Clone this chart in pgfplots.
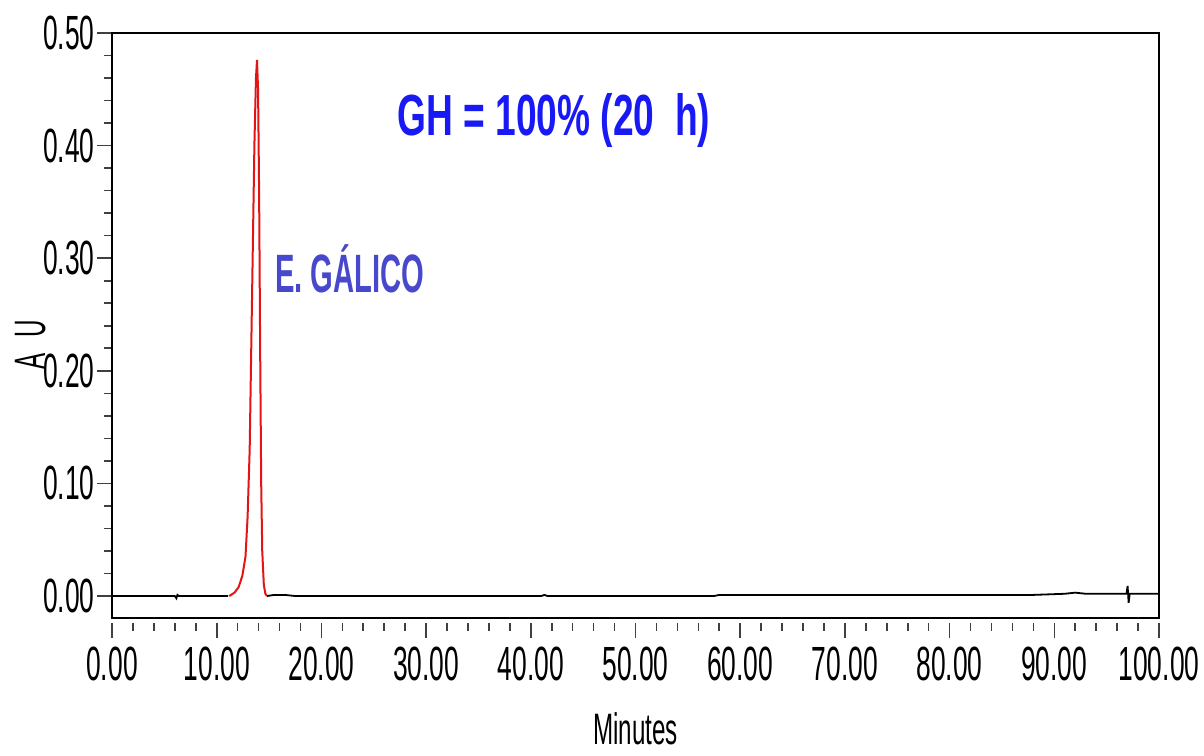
\documentclass[border=0pt]{standalone}
\usepackage{fontspec}
\setmainfont{Liberation Sans}
\newfontfamily\narrowfont{Liberation Sans}[FakeStretch=0.55]
\newfontfamily\annfont{Liberation Sans}[FakeStretch=0.64]
\newfontfamily\galfont{Liberation Sans}[FakeStretch=0.54]
\usepackage{pgfplots}
\pgfplotsset{compat=1.18}
\usetikzlibrary{calc}
\definecolor{peakred}{RGB}{228,20,20}
\definecolor{ghblue}{RGB}{25,25,245}
\definecolor{galblue}{RGB}{72,72,205}

\begin{document}
\begin{tikzpicture}
\begin{axis}[name=ax, scale only axis, width=523.5pt, height=292.5pt,
  xmin=0, xmax=100, ymin=-0.0195, ymax=0.5,
  xtick={0,10,...,100}, ytick={0,0.1,0.2,0.3,0.4,0.5},
  minor x tick num=4, minor y tick num=4,
  xtick pos=bottom, ytick pos=left,
  tick align=outside, major tick length=7.5pt, minor tick length=4pt,
  xtick style={yshift=-2.5pt},
  every tick/.style={black!75, line width=0.8pt},
  axis line style={line width=1pt},
  /pgf/number format/fixed, /pgf/number format/fixed zerofill,
  /pgf/number format/precision=2, /pgf/number format/assume math mode=true,
  ticklabel style={font=\narrowfont\fontsize{24}{24}\selectfont, inner sep=1pt},
  xticklabel style={yshift=-6pt},
  xlabel={Minutes}, ylabel={A\hspace{0.35em}U},
  label style={font=\narrowfont\fontsize{22}{22}\selectfont},
  xlabel style={at={(axis description cs:0.5,-0.19)}, anchor=center, inner sep=0pt},
  ylabel style={at={(axis description cs:-0.078,0.467)}, anchor=center},
  clip=false]
\addplot[black, line width=0.9pt] coordinates {
  (0,0) (6.0,0) (6.15,-0.002) (6.25,0.001) (6.4,0) (11.1,0)};
\addplot[peakred, line width=1pt] coordinates {
  (11.2,0.000) (11.7,0.003) (12.1,0.008) (12.45,0.018) (12.75,0.035)
  (12.95,0.07) (13.15,0.13) (13.3,0.22) (13.45,0.31) (13.6,0.40)
  (13.75,0.46) (13.85,0.476) (13.95,0.45) (14.05,0.36) (14.15,0.22)
  (14.25,0.10) (14.35,0.04) (14.5,0.01) (14.65,0.002) (14.8,0.000)};
\addplot[black, line width=0.9pt] coordinates {
  (14.8,0) (15.5,0.001) (16.5,0.001) (17.5,0) (41.0,0) (41.3,0.001) (41.6,0)
  (57.5,0) (58,0.001) (75,0.001) (88,0.001) (91,0.002) (92,0.003) (93,0.002)
  (96.9,0.002) (97.0,0.009) (97.1,-0.006) (97.2,0.002) (100,0.002)};
\node[anchor=west, text=ghblue, font=\annfont\bfseries\fontsize{29}{29}\selectfont]
  at (axis cs:26.6,0.422) {GH = 100\% (20\ \ h)};
\node[anchor=west, text=galblue, font=\galfont\bfseries\fontsize{27}{27}\selectfont]
  at (axis cs:14.9,0.291) {E. GÁLICO};
\end{axis}
\pgfresetboundingbox
\path[use as bounding box] ($(ax.south west)+(-56pt,-69pt)$) rectangle ($(ax.north east)+(22.5pt,16.5pt)$);
\end{tikzpicture}
\end{document}
